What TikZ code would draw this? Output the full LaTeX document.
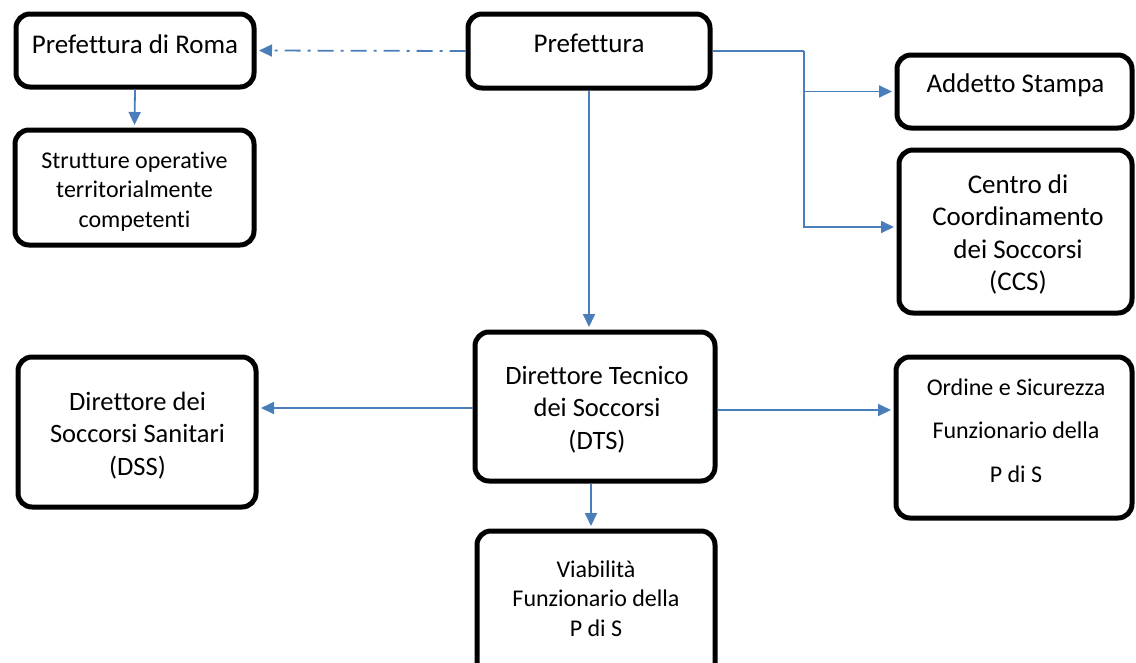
\documentclass[tikz,border=0pt]{standalone}
\usepackage{fontspec}
\setmainfont{Carlito}[Ligatures=NoCommon]
\usetikzlibrary{arrows.meta}
\definecolor{lineblue}{RGB}{74,126,187}
\newcommand{\mlines}[1]{\begin{tabular}[t]{@{}c@{}}#1\end{tabular}}
\tikzset{
  box/.style={draw=black, line width=5pt, rounded corners=14pt, inner sep=0pt},
  txt/.style={anchor=base, inner sep=0pt, text=black},
  conn/.style={draw=lineblue, line width=1.8pt, -{Triangle[length=13pt,width=12pt]}, shorten >=2.5pt},
  plain/.style={draw=lineblue, line width=1.8pt},
  fbig/.style={font=\fontsize{27}{32.5}\selectfont},
  fmid/.style={font=\fontsize{26.5}{32.5}\selectfont},
  fsmall/.style={font=\fontsize{24}{29.5}\selectfont},
}
\begin{document}
\begin{tikzpicture}[x=1pt,y=-1pt]
\useasboundingbox (0,0) rectangle (1136,662);
\clip (0,0) rectangle (1136,662);
% boxes
\node[box, minimum width=238pt, minimum height=73pt]  (roma)  at (135,50.5) {};
\node[box, minimum width=239pt, minimum height=115pt] (strut) at (134.5,187.5) {};
\node[box, minimum width=242pt, minimum height=74pt]  (pref)  at (589,51) {};
\node[box, minimum width=235pt, minimum height=73pt]  (add)   at (1014.5,91.5) {};
\node[box, minimum width=233pt, minimum height=163pt] (ccs)   at (1015.5,231.5) {};
\node[box, minimum width=240pt, minimum height=149pt] (dts)   at (595,406.5) {};
\node[box, minimum width=238pt, minimum height=150pt] (dss)   at (137,432) {};
\node[box, minimum width=236pt, minimum height=161pt] (ord)   at (1014,437.5) {};
\node[box, minimum width=238pt, minimum height=159pt] (via)   at (596,610.5) {};
% texts
\node[txt, fbig] (tRoma) at (135,53) {Prefettura di Roma};
\node[txt, fsmall] (tStrut) at (134.5,168) {\mlines{Strutture operative\\territorialmente\\competenti}};
\node[txt, fbig] (tPref) at (589,52) {Prefettura};
\node[txt, fbig] (tAdd) at (1015.5,92) {Addetto Stampa};
\node[txt, fbig] (tCcs) at (1018,193) {\mlines{Centro di\\Coordinamento\\dei Soccorsi\\(CCS)}};
\node[txt, fmid] (tDts) at (597,384) {\mlines{Direttore Tecnico\\dei Soccorsi\\(DTS)}};
\node[txt, fmid] (tDss) at (137.5,410) {\mlines{Direttore dei\\Soccorsi Sanitari\\(DSS)}};
\node[txt, font=\fontsize{24}{43.5}\selectfont] (tOrd) at (1016,395) {\mlines{Ordine e Sicurezza\\Funzionario della\\P di S}};
\node[txt, fsmall] (tVia) at (596,577) {\mlines{Viabilità\\Funzionario della\\P di S}};
% connectors
\draw[conn, dash pattern=on 16pt off 7pt on 3pt off 7pt] (pref.west) -- (roma.east);
\draw[conn] (roma.south) -- (strut.north);
\coordinate (elb) at (804,51);
\draw[plain] (pref.east) -- (elb);
\draw[conn] (elb) |- (add.west);
\draw[conn] (elb) |- ([yshift=4.5pt]ccs.west);
\draw[conn] (pref.south) -- (pref.south |- dts.north);
\draw[conn] ([yshift=-1.5pt]dts.west) -- ([yshift=-1.5pt]dts.west -| dss.east);
\draw[conn] ([yshift=-3.5pt]dts.east) -- ([yshift=-3.5pt]dts.east -| ord.west);
\draw[conn] ([xshift=-4pt]dts.south) -- ([xshift=-4pt]dts.south |- via.north);
\end{tikzpicture}
\end{document}
